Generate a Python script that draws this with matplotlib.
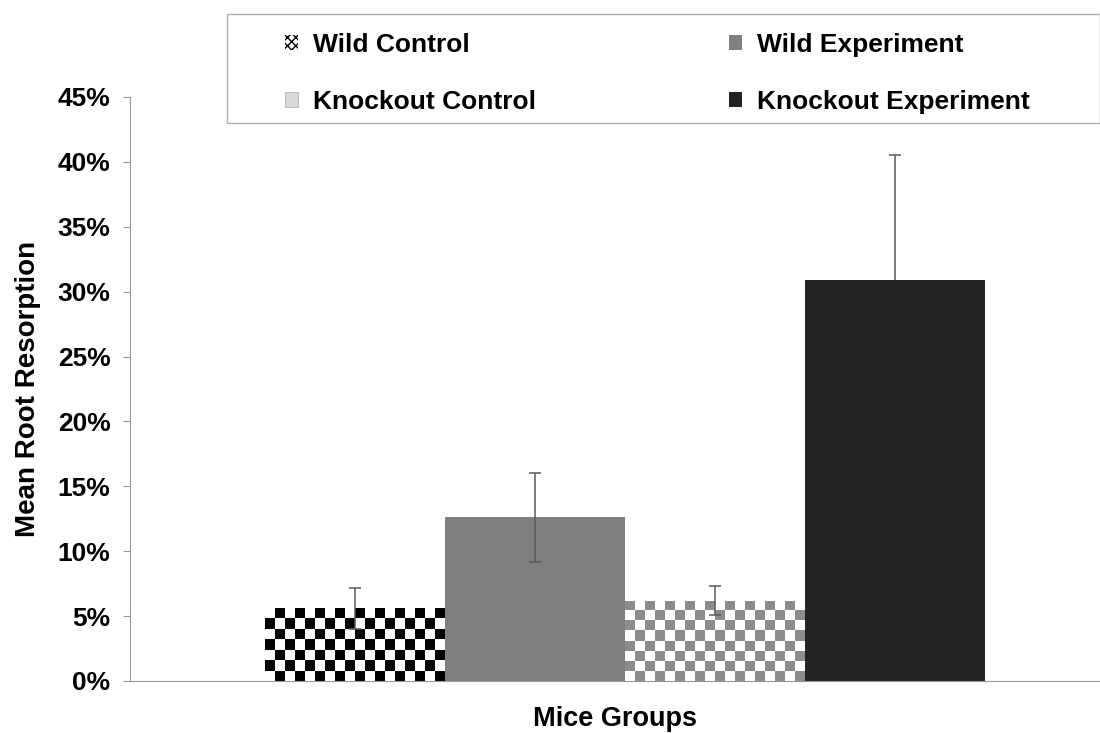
import matplotlib.pyplot as plt
import numpy as np
from matplotlib.patches import Patch, Rectangle
from matplotlib.colors import ListedColormap

plt.rcParams['font.family'] = ['Liberation Sans', 'DejaVu Sans']
plt.rcParams['font.weight'] = 'bold'

# data
groups = ['Wild Control', 'Wild Experiment', 'Knockout Control', 'Knockout Experiment']
means = [0.056, 0.126, 0.062, 0.309]
errors = [0.016, 0.034, 0.011, 0.096]
yticks = [0.0, 0.05, 0.10, 0.15, 0.20, 0.25, 0.30, 0.35, 0.40, 0.45]

fig = plt.figure(figsize=(11, 7.33), dpi=100)
ax = fig.add_axes([130 / 1100, 1 - 681 / 733, 970 / 1100, (681 - 97) / 733])
ax.set_facecolor('none')

x = np.arange(len(groups))
face = ['white', '#7f7f7f', 'white', '#232323']
bars = ax.bar(x, means, width=1.0, color=face, linewidth=0, zorder=2)

# checker pattern for the control bars
checker_cols = {0: ('#000000', '#ffffff'), 2: ('#8c8c8c', '#ffffff')}
cell_y = 0.0079
for i, (dark, light) in checker_cols.items():
    b = bars[i]
    x0, w, h = b.get_x(), b.get_width(), b.get_height()
    nx = 18
    ny = max(1, int(round(h / cell_y)))
    ii, jj = np.indices((ny, nx))
    pat = ((ii + jj) % 2).astype(float)
    im = ax.imshow(pat, cmap=ListedColormap([light, dark]), extent=(x0, x0 + w, 0, h),
                   origin='lower', interpolation='nearest', aspect='auto', zorder=2)
    im.set_clip_path(b)

# error bars: the knockout experiment one sits behind its dark bar
ebar = dict(fmt='none', ecolor='#5a5a5a', elinewidth=1.1, capsize=4.5, capthick=1.1)
ax.errorbar(x[:3], means[:3], yerr=errors[:3], zorder=3, **ebar)
ax.errorbar(x[3:], means[3:], yerr=errors[3:], zorder=1, **ebar)

ax.set_xlim(-1.25, 4.14)
ax.set_ylim(0, 0.45)
ax.set_yticks(yticks)
ax.set_yticklabels([f'{int(round(t * 100))}%' for t in yticks], fontsize=19, fontweight='bold')
ax.set_xticks([])
ax.tick_params(axis='y', direction='out', length=5, color='#999999', pad=9)
for s in ['top', 'right']:
    ax.spines[s].set_visible(False)
ax.spines['left'].set_color('#999999')
ax.spines['bottom'].set_color('#999999')

ax.set_ylabel('Mean Root Resorption', fontsize=20, fontweight='bold', labelpad=12)
ax.set_xlabel('Mice Groups', fontsize=19.5, fontweight='bold', labelpad=18)

# legend
handles = [
    Patch(facecolor='white', edgecolor='black', hatch='xxxx', linewidth=0),
    Patch(facecolor='#7f7f7f', linewidth=0),
    Patch(facecolor='#d9d9d9', edgecolor='#bbbbbb', linewidth=0.8),
    Patch(facecolor='#232323', linewidth=0),
]
order = [0, 2, 1, 3]
fig.legend([handles[k] for k in order], [groups[k] for k in order],
           loc='upper left', bbox_to_anchor=(285 / 1100, 1 - 33 / 733),
           ncol=2, frameon=False, handlelength=0.5, handleheight=0.5,
           handletextpad=0.57, labelspacing=1.25, columnspacing=7.3, borderaxespad=0,
           borderpad=0, prop={'weight': 'bold', 'size': 19})
fig.patches.append(Rectangle((227 / 1100, 1 - 123 / 733), 873 / 1100, 109 / 733,
                             transform=fig.transFigure, facecolor='white',
                             edgecolor='#b0b0b0', linewidth=1, zorder=-1))

fig.savefig('out.png', dpi=100)
